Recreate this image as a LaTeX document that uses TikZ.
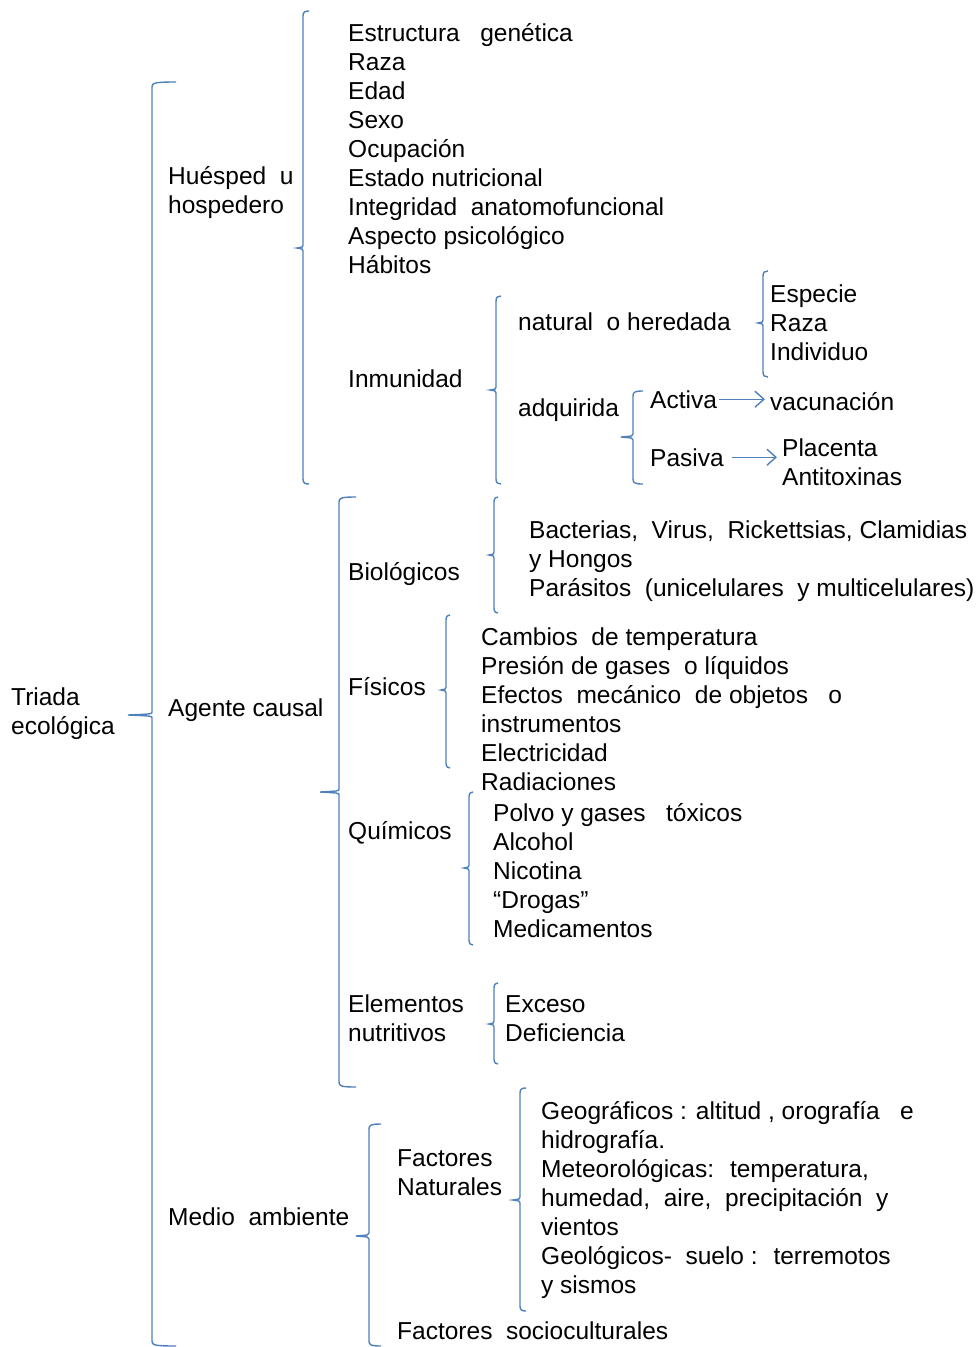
\documentclass[tikz,border=0pt]{standalone}
\usepackage{fontspec}
\setmainfont{Liberation Sans}
\usetikzlibrary{arrows.meta}
\definecolor{bl}{HTML}{4F81BD}
\newcommand\brc[6]{%
\draw[brace] ({#1+#6},#2) .. controls ({#1+2},#2) and (#1,{#2+1}) .. (#1,{#2+5}) -- (#1,{#4-3}) .. controls (#1,{#4-1}) .. (#5,#4) .. controls (#1,{#4+1}) .. (#1,{#4+3}) -- (#1,{#3-5}) .. controls (#1,{#3-1}) and ({#1+2},#3) .. ({#1+#6},#3);}
\begin{document}
\begin{tikzpicture}[x=1pt,y=-1pt,
  brace/.style={draw=bl,line width=1.4pt},
  txt/.style={anchor=base west,inner sep=0pt,align=left,font=\fontsize{24.5}{29}\selectfont},
  arr/.style={draw=bl,line width=1.4pt,-{Straight Barb[length=9pt,width=16pt]}}]
\useasboundingbox[fill=white] (0,0) rectangle (979,1347);
% braces
\brc{152}{82}{1346}{715}{128}{24}
\brc{303}{11}{484}{248}{297}{6}
\brc{496}{296}{484}{390}{490}{5}
\brc{763}{271}{377}{323}{758}{5}
\brc{633}{391}{484}{437}{621}{10}
\brc{339}{497}{1087}{792}{320}{17}
\brc{494}{497}{613}{555}{489}{4}
\brc{446}{615}{768}{690}{441}{4}
\brc{469}{792}{945}{868}{464}{4}
\brc{494}{983}{1064}{1024}{489}{4}
\brc{369}{1124}{1346}{1236}{356}{12}
\brc{520}{1088}{1311}{1200}{513}{6}
% texts (base = baseline of last line)
\node[txt] (triada) at (11,734) {Triada\\ecológica};
\node[txt] (huesped) at (168,213) {Huésped~ u\\hospedero};
\node[txt] (lista) at (348,273) {Estructura~~ genética\\Raza\\Edad\\Sexo\\Ocupación\\Estado nutricional\\Integridad~ anatomofuncional\\Aspecto psicológico\\Hábitos};
\node[txt] (inmunidad) at (348,387) {Inmunidad};
\node[txt] (natural) at (518,330) {natural~ o heredada};
\node[txt] (especie) at (770,360) {Especie\\Raza\\Individuo};
\node[txt] (adquirida) at (518,416) {adquirida};
\node[txt] (activa) at (650,408) {Activa};
\node[txt] (vac) at (770,410) {vacunación};
\node[txt] (pasiva) at (650,466) {Pasiva};
\node[txt] (plac) at (782,485) {Placenta\\Antitoxinas};
\node[txt] (agente) at (168,716) {Agente causal};
\node[txt] (bio) at (348,580) {Biológicos};
\node[txt] (bact) at (529,596) {Bacterias,~ Virus,~ Rickettsias, Clamidias\\y Hongos\\Parásitos~ (unicelulares~ y multicelulares)};
\node[txt] (fis) at (348,695) {Físicos};
\node[txt] (cambios) at (481,790) {Cambios~ de temperatura\\Presión de gases~ o líquidos\\Efectos~ mecánico~ de objetos~~ o\\instrumentos\\Electricidad\\Radiaciones};
\node[txt] (quim) at (348,839) {Químicos};
\node[txt] (polvo) at (493,937) {Polvo y gases~~ tóxicos\\Alcohol\\Nicotina\\“Drogas”\\Medicamentos};
\node[txt] (elem) at (348,1041) {Elementos\\nutritivos};
\node[txt] (exceso) at (505,1041) {Exceso\\Deficiencia};
\node[txt] (medio) at (168,1225) {Medio~ ambiente};
\node[txt] (facnat) at (397,1195) {Factores\\Naturales};
\node[txt] (geo) at (541,1293) {Geográficos : altitud , orografía~~ e\\hidrografía.\\Meteorológicas:~ temperatura,\\humedad,~ aire,~ precipitación~ y\\vientos\\Geológicos-~ suelo :~ terremotos\\y sismos};
\node[txt] (facsoc) at (397,1339) {Factores~ socioculturales};
% arrows
\draw[arr,shorten <=2pt,shorten >=5pt] (activa.east) -- (vac.west |- activa.east);
\draw[arr,shorten <=8pt,shorten >=5pt] (pasiva.east) -- (plac.west |- pasiva.east);
\end{tikzpicture}
\end{document}
